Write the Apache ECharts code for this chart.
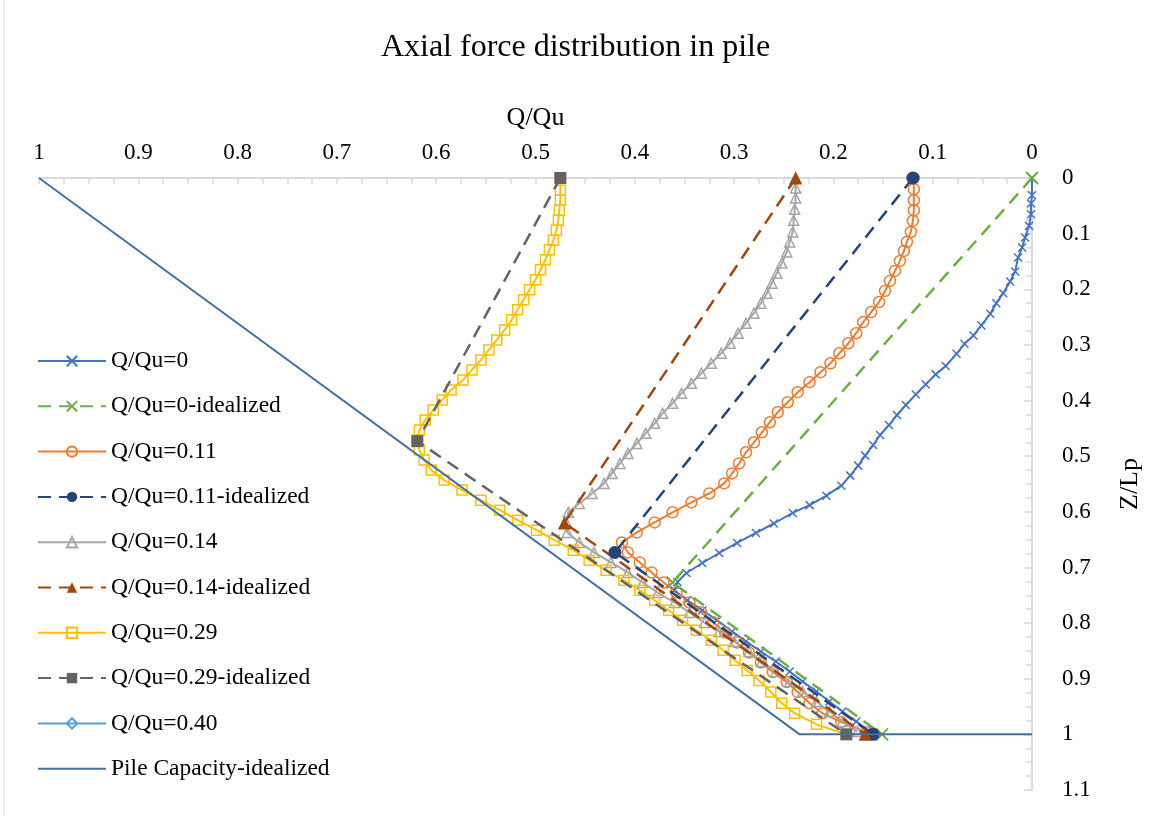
<!DOCTYPE html>
<html>
<head>
<meta charset="utf-8">
<script src="https://cdn.jsdelivr.net/npm/echarts@6/dist/echarts.min.js"></script>
<style>
html,body{margin:0;padding:0;background:#fff;}
#chart{width:1151px;height:816px;}
</style>
</head>
<body>
<div id="chart"></div>
<script>
// ---- data: [Q/Qu, Z/Lp] ----
const xTicks = [1, 0.9, 0.8, 0.7, 0.6, 0.5, 0.4, 0.3, 0.2, 0.1, 0];
const yTicks = [0, 0.1, 0.2, 0.3, 0.4, 0.5, 0.6, 0.7, 0.8, 0.9, 1, 1.1];

const q0 = [[0,0],[0.000,0.031],[0.001,0.046],[0.001,0.065],[0.003,0.086],[0.007,0.107],[0.010,0.125],[0.014,0.143],[0.017,0.168],[0.022,0.186],[0.029,0.207],[0.036,0.225],[0.042,0.244],[0.051,0.265],[0.059,0.283],[0.068,0.298],[0.076,0.316],[0.087,0.338],[0.097,0.353],[0.107,0.371],[0.117,0.389],[0.127,0.408],[0.136,0.426],[0.144,0.444],[0.153,0.462],[0.160,0.480],[0.168,0.499],[0.175,0.517],[0.183,0.535],[0.192,0.553],[0.207,0.571],[0.224,0.588],[0.241,0.602],[0.260,0.621],[0.278,0.638],[0.297,0.656],[0.315,0.674],[0.332,0.692],[0.348,0.710],[0.357,0.726],[0.360,0.741],[0.347,0.759],[0.332,0.777],[0.317,0.795],[0.302,0.815],[0.288,0.833],[0.273,0.851],[0.258,0.869],[0.244,0.887],[0.231,0.905],[0.217,0.923],[0.204,0.941],[0.191,0.959],[0.177,0.977],[0.165,0.993],[0.159,1.0]];
const q0Ideal = [[0,0],[0.362,0.727],[0.151,1.0]];

const q011 = [[0.119,0],[0.119,0.020],[0.119,0.040],[0.119,0.058],[0.120,0.077],[0.122,0.097],[0.126,0.115],[0.129,0.131],[0.133,0.149],[0.138,0.167],[0.143,0.185],[0.148,0.203],[0.154,0.223],[0.162,0.241],[0.170,0.259],[0.177,0.279],[0.185,0.297],[0.194,0.315],[0.203,0.333],[0.213,0.349],[0.224,0.367],[0.236,0.385],[0.246,0.403],[0.256,0.421],[0.264,0.439],[0.272,0.457],[0.280,0.475],[0.288,0.493],[0.295,0.513],[0.302,0.531],[0.310,0.549],[0.325,0.567],[0.343,0.583],[0.362,0.601],[0.380,0.619],[0.398,0.637],[0.413,0.655],[0.407,0.673],[0.395,0.691],[0.383,0.709],[0.371,0.727],[0.358,0.745],[0.345,0.763],[0.333,0.781],[0.321,0.799],[0.309,0.817],[0.297,0.835],[0.285,0.853],[0.273,0.871],[0.261,0.888],[0.247,0.906],[0.236,0.924],[0.224,0.944],[0.211,0.962],[0.192,0.978],[0.166,0.996]];
const q011Ideal = [[0.120,0],[0.420,0.673],[0.160,1.0]];

const q014 = [[0.238,0],[0.238,0.018],[0.238,0.036],[0.239,0.056],[0.240,0.076],[0.241,0.097],[0.244,0.115],[0.247,0.133],[0.252,0.153],[0.257,0.171],[0.262,0.189],[0.267,0.207],[0.273,0.225],[0.280,0.243],[0.288,0.261],[0.296,0.279],[0.304,0.297],[0.313,0.315],[0.323,0.333],[0.333,0.351],[0.343,0.369],[0.353,0.387],[0.362,0.405],[0.372,0.423],[0.380,0.441],[0.389,0.459],[0.398,0.477],[0.407,0.495],[0.415,0.513],[0.423,0.531],[0.431,0.549],[0.443,0.567],[0.456,0.585],[0.467,0.601],[0.469,0.619],[0.468,0.637],[0.456,0.655],[0.441,0.673],[0.424,0.691],[0.407,0.709],[0.392,0.727],[0.377,0.745],[0.360,0.763],[0.345,0.781],[0.330,0.799],[0.315,0.815],[0.300,0.833],[0.285,0.851],[0.272,0.869],[0.258,0.887],[0.244,0.905],[0.231,0.923],[0.217,0.941],[0.204,0.959],[0.191,0.977],[0.176,0.995]];
const q014Ideal = [[0.238,0],[0.471,0.620],[0.168,1.0]];

const q029 = [[0.475,0],[0.475,0.022],[0.475,0.040],[0.476,0.058],[0.477,0.076],[0.479,0.094],[0.482,0.112],[0.486,0.129],[0.490,0.147],[0.495,0.165],[0.500,0.183],[0.506,0.201],[0.512,0.219],[0.518,0.237],[0.524,0.255],[0.531,0.273],[0.539,0.291],[0.547,0.309],[0.555,0.327],[0.564,0.345],[0.573,0.363],[0.585,0.381],[0.594,0.399],[0.603,0.417],[0.611,0.435],[0.617,0.453],[0.619,0.471],[0.617,0.489],[0.612,0.507],[0.605,0.525],[0.592,0.543],[0.574,0.561],[0.555,0.579],[0.536,0.597],[0.518,0.615],[0.499,0.633],[0.481,0.651],[0.462,0.669],[0.446,0.687],[0.429,0.705],[0.411,0.723],[0.395,0.741],[0.380,0.759],[0.366,0.777],[0.352,0.795],[0.338,0.813],[0.323,0.831],[0.311,0.849],[0.299,0.867],[0.287,0.885],[0.275,0.903],[0.263,0.924],[0.252,0.944],[0.239,0.962],[0.217,0.982],[0.187,1.0]];
const q029Ideal = [[0.475,0],[0.619,0.473],[0.187,1.0]];

const q040 = [];
const pileCapacity = [[1,0],[0.234,1],[0,1]];

const names = ['Q/Qu=0','Q/Qu=0-idealized','Q/Qu=0.11','Q/Qu=0.11-idealized','Q/Qu=0.14','Q/Qu=0.14-idealized','Q/Qu=0.29','Q/Qu=0.29-idealized','Q/Qu=0.40','Pile Capacity-idealized'];

// ---- styles ----
const FONT = 'Liberation Serif';
const XMARK = 'path://M0,0L10,10M10,0L0,10';
function curve(name, data, color, symbol, size, hollow) {
  return {
    name, type: 'line', data, symbol, symbolSize: size, showSymbol: true,
    symbolKeepAspect: true,
    lineStyle: { color, width: 2 },
    itemStyle: { color: hollow ? 'rgba(255,255,255,0)' : color, borderColor: color, borderWidth: 1.5 },
    emphasis: { disabled: true }, animation: false, z: 2
  };
}
function ideal(name, data, color, symbol, size, border) {
  return {
    name, type: 'line', data, symbol, symbolSize: size, showSymbol: true,
    symbolKeepAspect: true,
    lineStyle: { color, width: 2.5, type: [13, 8] },
    itemStyle: { color, borderColor: color, borderWidth: border || 0 },
    emphasis: { disabled: true }, animation: false, z: 3
  };
}

const series = [
  curve(names[0], q0, '#4472C4', XMARK, 8, false),
  ideal(names[1], q0Ideal, '#70AD47', XMARK, 12, 2),
  curve(names[2], q011, '#ED7D31', 'circle', 11, true),
  ideal(names[3], q011Ideal, '#264478', 'circle', 13),
  curve(names[4], q014, '#A5A5A5', 'triangle', 10, true),
  ideal(names[5], q014Ideal, '#9E480E', 'triangle', 13),
  curve(names[6], q029, '#FFC000', 'rect', 10, true),
  ideal(names[7], q029Ideal, '#636363', 'rect', 12),
  curve(names[8], q040, '#5B9BD5', 'diamond', 10, true),
  { name: names[9], type: 'line', data: pileCapacity, symbol: 'none',
    lineStyle: { color: '#44729D', width: 2 }, itemStyle: { color: '#44729D' },
    emphasis: { disabled: true }, animation: false, z: 4 }
];

const legendData = names.map((n, i) => i === 9 ? { name: n, itemStyle: { opacity: 0 } } : n);

const chart = echarts.init(document.getElementById('chart'), null, { renderer: 'canvas' });
chart.setOption({
  backgroundColor: '#ffffff',
  animation: false,
  textStyle: { fontFamily: FONT, color: '#000' },
  title: {
    text: 'Axial force distribution in pile', left: 'center', top: 27,
    textStyle: { fontFamily: FONT, fontSize: 32, fontWeight: 'normal', color: '#000' }
  },
  legend: {
    orient: 'vertical', left: 32, top: 344, itemWidth: 68, itemHeight: 13, itemGap: 21.3,
    data: legendData,
    textStyle: { fontFamily: FONT, fontSize: 23.5, color: '#000', lineHeight: 24 },
    selectedMode: false
  },
  grid: { left: 39, right: 118, top: 178, bottom: 26, containLabel: false },
  xAxis: {
    type: 'value', position: 'top', inverse: true, min: 0, max: 1, interval: 0.1,
    name: 'Q/Qu', nameLocation: 'middle', nameGap: 47,
    nameTextStyle: { fontFamily: FONT, fontSize: 26, color: '#000' },
    axisLine: { show: true, lineStyle: { color: '#D9D9D9', width: 2 } },
    axisTick: { show: true, inside: true, length: 6, lineStyle: { color: '#D9D9D9', width: 1.5 } },
    minorTick: { show: true, splitNumber: 4, length: 6, lineStyle: { color: '#D9D9D9', width: 1.5 } },
    axisLabel: { fontFamily: FONT, fontSize: 23, color: '#000', margin: 14,
      formatter: v => xTicks.includes(Math.round(v*10)/10) ? String(Math.round(v*10)/10) : '' },
    splitLine: { show: false }
  },
  yAxis: {
    type: 'value', position: 'right', inverse: true, min: 0, max: 1.1, interval: 0.1,
    name: 'Z/Lp', nameLocation: 'middle', nameGap: 85, nameRotate: 90,
    nameTextStyle: { fontFamily: FONT, fontSize: 26, color: '#000' },
    axisLine: { show: true, lineStyle: { color: '#D9D9D9', width: 2 } },
    axisTick: { show: true, inside: true, length: 8, lineStyle: { color: '#D9D9D9', width: 1.5 } },
    minorTick: { show: true, splitNumber: 4, length: 6, lineStyle: { color: '#D9D9D9', width: 1.5 } },
    axisLabel: { fontFamily: FONT, fontSize: 23, color: '#000', margin: 30,
      formatter: v => { const r = Math.round(v*10)/10; return yTicks.includes(r) ? String(r) : ''; } },
    splitLine: { show: false }
  },
  graphic: [
    { type: 'line', shape: { x1: 4, y1: 0, x2: 4, y2: 816 }, style: { stroke: '#D9D9D9', lineWidth: 1 }, silent: true }
  ],
  series
});
</script>
</body>
</html>
